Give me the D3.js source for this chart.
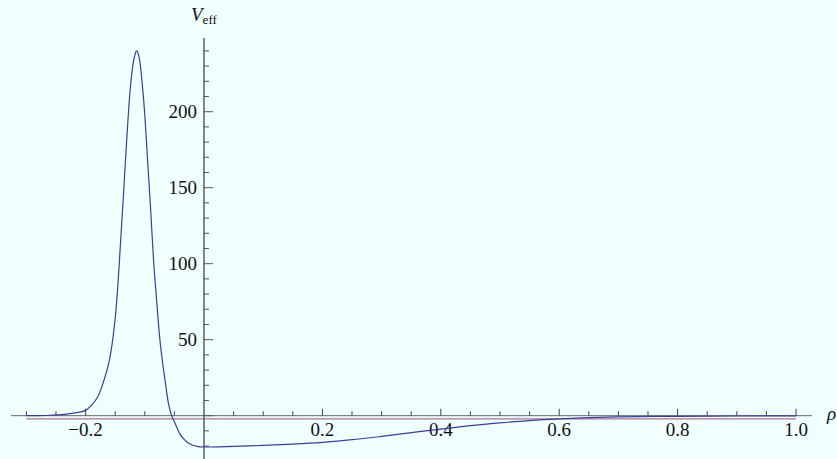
<!DOCTYPE html>
<html>
<head>
<meta charset="utf-8">
<script src="https://cdn.jsdelivr.net/npm/d3@7"></script>
<style>
  html, body { margin: 0; padding: 0; background: #f0ffff; }
  svg { display: block; }
  .tick-label { font-family: "Liberation Serif", "Times New Roman", serif; font-size: 19px; fill: #111; }
</style>
</head>
<body>
<svg id="chart"></svg>
<script>
const width = 837;
const height = 459;

// values
const rho = [-0.30, -0.28, -0.26, -0.24, -0.22, -0.20, -0.19, -0.18, -0.17, -0.16,
  -0.15, -0.14, -0.13, -0.125, -0.12, -0.117, -0.114, -0.111, -0.108, -0.104,
  -0.10, -0.095, -0.09, -0.085, -0.08, -0.075, -0.07, -0.065, -0.06, -0.055,
  -0.05, -0.045, -0.04, -0.035, -0.03, -0.02, -0.01, 0];
const vLeft = [0, 0.1, 0.3, 0.7, 1.7, 3.5, 7, 12, 22, 36,
  64, 120, 185, 213, 231, 237, 240, 238, 232, 217,
  198, 166, 135, 101, 76, 52, 35, 21, 8, 0.5,
  -4, -8.5, -12.5, -15, -17, -19.3, -20.3, -20.6];
const rhoRight = [0, 0.05, 0.1, 0.15, 0.2, 0.25, 0.3, 0.35, 0.4, 0.45, 0.5, 0.55, 0.6, 0.65, 0.7, 0.8, 0.9, 1.0];
const vRight = [-20.6, -20.2, -19.6, -18.7, -17.5, -15.8, -13.6, -11.2, -8.8, -6.6, -4.7, -3.2, -2.1, -1.3, -0.8, -0.4, -0.2, -0.1];
const flatRho = [-0.3, 1.0];
const flatV = [-2.1, -2.1];

const xMajor = [-0.2, 0.2, 0.4, 0.6, 0.8, 1.0];
const xMajorLabels = ["\u22120.2", "0.2", "0.4", "0.6", "0.8", "1.0"];
const yMajor = [50, 100, 150, 200];

const svg = d3.select("#chart")
  .attr("width", width)
  .attr("height", height);

svg.append("rect")
  .attr("width", width)
  .attr("height", height)
  .attr("fill", "#f0ffff");

const x = d3.scaleLinear().domain([-0.326, 1.027]).range([11, 812]);
const y = d3.scaleLinear().domain([-28.5, 248.5]).range([459, 38]);

// minor ticks every 0.05 / 10
const xAll = d3.range(-6, 21).map(i => i * 0.05);
const yAll = d3.range(-2, 25).map(i => i * 10);

const x0 = x(0);
const y0 = y(0);

// x axis
svg.append("line")
  .attr("x1", x.range()[0]).attr("x2", x.range()[1])
  .attr("y1", y0).attr("y2", y0)
  .attr("stroke", "#666")
  .attr("stroke-width", 1);

svg.selectAll("line.xtick")
  .data(xAll.filter(v => Math.abs(v) > 1e-9))
  .enter().append("line")
  .attr("class", "xtick")
  .attr("x1", d => x(d)).attr("x2", d => x(d))
  .attr("y1", y0)
  .attr("y2", d => xMajor.some(m => Math.abs(m - d) < 1e-9) ? y0 - 7 : y0 - 4.5)
  .attr("stroke", "#444")
  .attr("stroke-width", 1);

svg.selectAll("text.xlabel")
  .data(xMajor)
  .enter().append("text")
  .attr("class", "tick-label xlabel")
  .attr("x", d => x(d))
  .attr("y", y0 + 20)
  .attr("text-anchor", "middle")
  .text((d, i) => xMajorLabels[i]);

// y axis
svg.append("line")
  .attr("x1", x0).attr("x2", x0)
  .attr("y1", y.range()[0]).attr("y2", y.range()[1])
  .attr("stroke", "#111")
  .attr("stroke-width", 1);

svg.selectAll("line.ytick")
  .data(yAll)
  .enter().append("line")
  .attr("class", "ytick")
  .attr("x1", x0)
  .attr("x2", d => (d % 50 === 0) ? x0 + 9 : x0 + 5)
  .attr("y1", d => y(d)).attr("y2", d => y(d))
  .attr("stroke", "#555")
  .attr("stroke-width", 1);

svg.selectAll("text.ylabel")
  .data(yMajor)
  .enter().append("text")
  .attr("class", "tick-label ylabel")
  .attr("x", x0 - 7)
  .attr("y", d => y(d))
  .attr("dy", "0.33em")
  .attr("text-anchor", "end")
  .text(d => d);

// axis labels
const vLabel = svg.append("text")
  .attr("class", "tick-label")
  .attr("x", 191)
  .attr("y", 21);
vLabel.append("tspan").attr("font-style", "italic").text("V");
vLabel.append("tspan").attr("font-size", "13px").attr("dy", 3).text("eff");

svg.append("text")
  .attr("class", "tick-label")
  .attr("x", 827)
  .attr("y", 420)
  .attr("font-style", "italic")
  .text("\u03c1");

// curves
const line = d3.line()
  .x(d => x(d[0]))
  .y(d => y(d[1]))
  .curve(d3.curveCatmullRom.alpha(0.5));

svg.append("path")
  .datum(flatRho.map((r, i) => [r, flatV[i]]))
  .attr("d", line)
  .attr("fill", "none")
  .attr("stroke", "#993d71")
  .attr("stroke-opacity", 0.75)
  .attr("stroke-width", 1.2);

svg.append("path")
  .datum(rho.map((r, i) => [r, vLeft[i]]).concat(rhoRight.slice(1).map((r, i) => [r, vRight[i + 1]])))
  .attr("d", line)
  .attr("fill", "none")
  .attr("stroke", "#3d3d99")
  .attr("stroke-width", 1.2);
</script>
</body>
</html>
